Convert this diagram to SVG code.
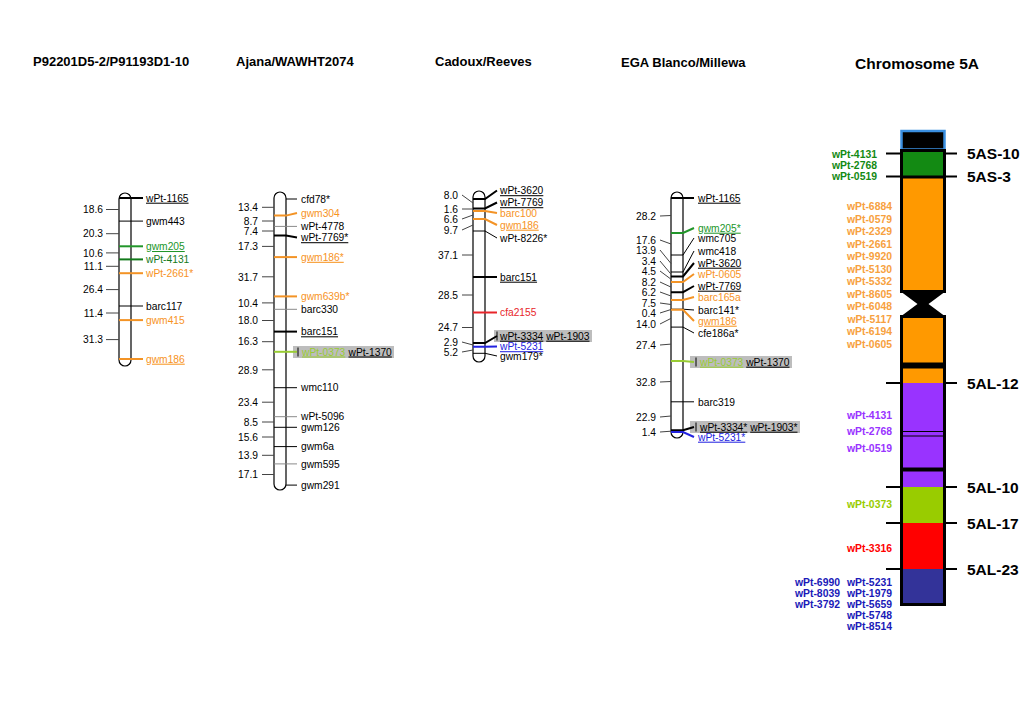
<svg xmlns="http://www.w3.org/2000/svg" width="1023" height="708" viewBox="0 0 1023 708">
<style>
text{font-family:"Liberation Sans",Arial,Helvetica,sans-serif}
.m{font-size:10.25px;fill:#000}
.d{font-size:10.25px;fill:#000;text-anchor:end}
.u{text-decoration:underline}
.ti{font-size:13px;font-weight:bold;fill:#000}
.cl{font-size:10.4px;font-weight:bold;text-anchor:end}
.arm{font-size:15.5px;font-weight:bold;fill:#000}
.bar{fill:#fff;stroke:#000;stroke-width:1.2}
.k1{stroke:#000;stroke-width:1;fill:none}
.k2{stroke:#000;stroke-width:2;fill:none}
.g1{stroke:#8a8a8a;stroke-width:1;fill:none}
.or{stroke:#f39325;stroke-width:2;fill:none}
.gr{stroke:#22962a;stroke-width:2;fill:none}
.dg{stroke:#137a1b;stroke-width:2;fill:none}
.yg{stroke:#99cc33;stroke-width:2;fill:none}
.rd{stroke:#e8252a;stroke-width:2;fill:none}
.bl{stroke:#2323e0;stroke-width:2;fill:none}
.tk{stroke:#444;stroke-width:1;fill:none}
.box{fill:#bdbdbd}
.to{fill:#f7931e}.tg{fill:#22962a}.tdg{fill:#137a1b}.tyg{fill:#99cc33}.tr{fill:#e8252a}.tb{fill:#2323e0}
</style>

<g id="titles">
<text class="ti" x="33" y="66">P92201D5-2/P91193D1-10</text>
<text class="ti" x="236" y="66">Ajana/WAWHT2074</text>
<text class="ti" x="435" y="66">Cadoux/Reeves</text>
<text class="ti" x="621" y="67">EGA Blanco/Millewa</text>
<text class="arm" x="855" y="69">Chromosome 5A</text>
</g>

<!-- Map 1 -->
<g id="map1">
<rect class="bar" x="119" y="193" width="12" height="173" rx="6" ry="6"/>
<g id="map1-connectors">
<path class="k2" d="M119 198H143"/>
<path class="k1" d="M119 221.1H143"/>
<path class="gr" d="M119 246.3H143"/>
<path class="dg" d="M119 259.4H143"/>
<path class="or" d="M119 273.2H143"/>
<path class="k1" d="M119 306H143"/>
<path class="or" d="M119 320.1H143"/>
<path class="or" d="M119 359H143"/>
<path class="tk" d="M106 209.5H119M106 233.7H119M106 252.9H119M106 266.3H119M106 289.6H119M106 313H119M106 339.6H119"/>
</g>
<text class="m u" x="146" y="201.7">wPt-1165</text>
<text class="m" x="146" y="224.8">gwm443</text>
<text class="m u tg" x="146" y="250">gwm205</text>
<text class="m tdg" x="146" y="263.1">wPt-4131</text>
<text class="m to" x="146" y="276.9">wPt-2661*</text>
<text class="m" x="146" y="309.7">barc117</text>
<text class="m to" x="146" y="323.8">gwm415</text>
<text class="m u to" x="146" y="362.7">gwm186</text>
<text class="d" x="103" y="213.2">18.6</text>
<text class="d" x="103" y="237.4">20.3</text>
<text class="d" x="103" y="256.6">10.6</text>
<text class="d" x="103" y="270">11.1</text>
<text class="d" x="103" y="293.3">26.4</text>
<text class="d" x="103" y="316.7">11.4</text>
<text class="d" x="103" y="343.3">31.3</text>
</g>

<!-- Map 2 -->
<g id="map2">
<rect class="bar" x="274" y="192" width="12" height="298" rx="6" ry="6"/>
<rect class="box" x="293" y="346" width="101" height="12"/>
<g id="map2-connectors">
<path class="k1" d="M286 199H297"/>
<path class="or" d="M274 215.6H286L297 213"/>
<path class="g1" d="M274 226.4H297"/>
<path class="k2" d="M274 235.6H286L297 237.5"/>
<path class="or" d="M274 257.1H297"/>
<path class="or" d="M274 296.4H297"/>
<path class="g1" d="M274 309.3H297"/>
<path class="k2" d="M274 331.6H297"/>
<path class="yg" d="M274 351.8H297"/>
<path class="k1" d="M298 347.5V356.5"/>
<path class="k1" d="M274 387.7H297"/>
<path class="g1" d="M274 416.7H297"/>
<path class="k1" d="M274 427.3H297"/>
<path class="k1" d="M274 446.6H297"/>
<path class="g1" d="M274 463.9H297"/>
<path class="k1" d="M286 485.1H297"/>
<path class="tk" d="M262 207.3H274M262 221H274M262 231H274M262 246.4H274M262 276.8H274M262 302.9H274M262 320.5H274M262 341.7H274M262 369.8H274M262 402.2H274M262 422H274M262 437H274M262 455.3H274M262 474.5H274"/>
</g>
<text class="m" x="301" y="202.7">cfd78*</text>
<text class="m to" x="301" y="216.7">gwm304</text>
<text class="m" x="301" y="229.7">wPt-4778</text>
<text class="m u" x="301" y="241.2">wPt-7769*</text>
<text class="m u to" x="301" y="260.8">gwm186*</text>
<text class="m to" x="301" y="300.1">gwm639b*</text>
<text class="m" x="301" y="313">barc330</text>
<text class="m u" x="301" y="335.3">barc151</text>
<text class="m u tyg" x="302" y="355.5">wPt-0373</text>
<text class="m u" x="348.5" y="355.5">wPt-1370</text>
<text class="m" x="301" y="391.4">wmc110</text>
<text class="m" x="301" y="420.4">wPt-5096</text>
<text class="m" x="301" y="431">gwm126</text>
<text class="m" x="301" y="450.3">gwm6a</text>
<text class="m" x="301" y="467.6">gwm595</text>
<text class="m" x="301" y="488.8">gwm291</text>
<text class="d" x="258" y="211">13.4</text>
<text class="d" x="258" y="224.7">8.7</text>
<text class="d" x="258" y="234.7">7.4</text>
<text class="d" x="258" y="250.1">17.3</text>
<text class="d" x="258" y="280.5">31.7</text>
<text class="d" x="258" y="306.6">10.4</text>
<text class="d" x="258" y="324.2">18.0</text>
<text class="d" x="258" y="345.4">16.3</text>
<text class="d" x="258" y="373.5">28.9</text>
<text class="d" x="258" y="405.9">23.4</text>
<text class="d" x="258" y="425.7">8.5</text>
<text class="d" x="258" y="440.7">15.6</text>
<text class="d" x="258" y="459">13.9</text>
<text class="d" x="258" y="478.2">17.1</text>
</g>

<!-- Map 3 -->
<g id="map3">
<rect class="bar" x="473" y="191" width="12" height="171" rx="6" ry="6"/>
<rect class="box" x="494" y="330" width="98" height="12"/>
<g id="map3-connectors">
<path class="k2" d="M473 199H485L497 190.5"/>
<path class="k2" d="M473 208.5H485L497 202.5"/>
<path class="or" d="M473 211H485L497 213"/>
<path class="or" d="M473 219H485L497 225"/>
<path class="k1" d="M473 231H485L497 238"/>
<path class="k2" d="M473 277H497"/>
<path class="rd" d="M473 312.5H497"/>
<path class="k2" d="M473 343H485L497 336"/>
<path class="k1" d="M497 331.5V340.5"/>
<path class="bl" d="M473 346.8H485L497 346.5"/>
<path class="k1" d="M473 353.3H485L497 356"/>
<path class="tk" d="M462 195L473 203M462 209H473M462 219L473 215M462 230L473 225M462 255H473M462 295H473M462 327.5H473M462 342L473 345M462 352L473 350"/>
</g>
<text class="m u" x="500" y="194.2">wPt-3620</text>
<text class="m u" x="500" y="206.2">wPt-7769</text>
<text class="m to" x="500" y="216.7">barc100</text>
<text class="m u to" x="500" y="228.7">gwm186</text>
<text class="m" x="500" y="241.7">wPt-8226*</text>
<text class="m u" x="500" y="280.7">barc151</text>
<text class="m tr" x="500" y="316.2">cfa2155</text>
<text class="m u" x="500" y="339.7">wPt-3334</text>
<text class="m u" x="546.2" y="339.7">wPt-1903</text>
<text class="m u tb" x="500" y="350.2">wPt-5231</text>
<text class="m" x="500" y="359.7">gwm179*</text>
<text class="d" x="458" y="198.7">8.0</text>
<text class="d" x="458" y="212.7">1.6</text>
<text class="d" x="458" y="222.7">6.6</text>
<text class="d" x="458" y="233.7">9.7</text>
<text class="d" x="458" y="258.7">37.1</text>
<text class="d" x="458" y="298.7">28.5</text>
<text class="d" x="458" y="331.2">24.7</text>
<text class="d" x="458" y="345.7">2.9</text>
<text class="d" x="458" y="355.7">5.2</text>
</g>

<!-- Map 4 -->
<g id="map4">
<rect class="bar" x="671" y="192" width="12" height="246" rx="6" ry="6"/>
<rect class="box" x="690" y="356" width="102" height="12"/>
<rect class="box" x="690" y="421" width="110" height="12"/>
<g id="map4-connectors">
<path class="k2" d="M671 198H694"/>
<path class="gr" d="M671 233H683L694 228"/>
<path class="k1" d="M671 255H683L694 238"/>
<path class="k1" d="M671 272H683L694 251"/>
<path class="k2" d="M671 276.4H683L694 263"/>
<path class="or" d="M671 282H683L694 274"/>
<path class="k2" d="M671 292.2H683L694 286"/>
<path class="or" d="M671 299.9H683L694 297"/>
<path class="k1" d="M671 309.2H683L694 310"/>
<path class="or" d="M671 309.7H683L694 321"/>
<path class="k1" d="M671 327.1H683L694 333"/>
<path class="yg" d="M671 361.1H683L694 362"/>
<path class="k1" d="M696 357.5V366.5"/>
<path class="k1" d="M671 401.8H694"/>
<path class="k2" d="M671 430.3H683L694 427"/>
<path class="k1" d="M696 422.5V431.5"/>
<path class="bl" d="M671 432H683L694 437"/>
<path class="tk" d="M660 216L671 215.5M660 240L671 244M660 250L671 263.5M660 261L671 274.2M660 271L671 279.2M660 282L671 287.1M660 292L671 296M660 303L671 304.5M660 313L671 309.5M660 324L671 318.4M660 345L671 344.1M660 382L671 381.5M660 417L671 416M660 432L671 431.2"/>
</g>
<text class="m u" x="698" y="201.7">wPt-1165</text>
<text class="m u tg" x="698" y="231.7">gwm205*</text>
<text class="m" x="698" y="241.7">wmc705</text>
<text class="m" x="698" y="254.7">wmc418</text>
<text class="m u" x="698" y="266.7">wPt-3620</text>
<text class="m to" x="698" y="277.7">wPt-0605</text>
<text class="m u" x="698" y="289.7">wPt-7769</text>
<text class="m to" x="698" y="300.7">barc165a</text>
<text class="m" x="698" y="313.7">barc141*</text>
<text class="m u to" x="698" y="324.7">gwm186</text>
<text class="m" x="698" y="336.7">cfe186a*</text>
<text class="m u tyg" x="700" y="365.7">wPt-0373</text>
<text class="m u" x="746.2" y="365.7">wPt-1370</text>
<text class="m" x="698" y="405.5">barc319</text>
<text class="m u" x="700" y="430.7">wPt-3334*</text>
<text class="m u" x="750.2" y="430.7">wPt-1903*</text>
<text class="m u tb" x="698" y="440.7">wPt-5231*</text>
<text class="d" x="656" y="219.7">28.2</text>
<text class="d" x="656" y="243.7">17.6</text>
<text class="d" x="656" y="253.7">13.9</text>
<text class="d" x="656" y="264.7">3.4</text>
<text class="d" x="656" y="274.7">4.5</text>
<text class="d" x="656" y="285.7">8.2</text>
<text class="d" x="656" y="295.7">6.2</text>
<text class="d" x="656" y="306.7">7.5</text>
<text class="d" x="656" y="316.7">0.4</text>
<text class="d" x="656" y="327.7">14.0</text>
<text class="d" x="656" y="348.7">27.4</text>
<text class="d" x="656" y="385.7">32.8</text>
<text class="d" x="656" y="420.7">22.9</text>
<text class="d" x="656" y="435.7">1.4</text>
</g>

<!-- Chromosome 5A -->
<g id="chromosome5A">
<g id="bin-ticks" stroke="#000" stroke-width="2">
<path d="M886 153.5H957M886 176.5H957M886 383H957M886 487H957M886 523H957M886 569H957"/>
</g>
<rect x="901.5" y="131" width="43" height="18.5" fill="#000" stroke="#3a8fe0" stroke-width="2.5"/>
<rect x="902" y="150" width="42" height="27" fill="#138a13"/>
<rect x="902" y="177" width="42" height="115" fill="#ff9900"/>
<rect x="900" y="175.5" width="46" height="3" fill="#000"/>
<rect x="901.5" y="150.5" width="43" height="141" fill="none" stroke="#000" stroke-width="3"/>
<polygon points="900,291 946,291 928.5,304 946,317 900,317 917.5,304" fill="#000"/>
<rect x="902" y="316" width="42" height="67" fill="#ff9900"/>
<rect x="902" y="383" width="42" height="104" fill="#9933ff"/>
<rect x="902" y="487" width="42" height="36" fill="#99cc00"/>
<rect x="902" y="523" width="42" height="46" fill="#ff0000"/>
<rect x="902" y="569" width="42" height="35" fill="#333399"/>
<rect x="900" y="362.5" width="46" height="6" fill="#000"/>
<rect x="900" y="467.5" width="46" height="4" fill="#000"/>
<path d="M902 431.5H944M902 436H944" stroke="#000" stroke-width="1"/>
<rect x="901.5" y="316.5" width="43" height="288" fill="none" stroke="#000" stroke-width="3"/>
<text class="arm" x="967" y="159">5AS-10</text>
<text class="arm" x="967" y="182">5AS-3</text>
<text class="arm" x="967" y="389">5AL-12</text>
<text class="arm" x="967" y="493">5AL-10</text>
<text class="arm" x="967" y="529">5AL-17</text>
<text class="arm" x="967" y="575">5AL-23</text>
<g fill="#138a13">
<text class="cl" x="877" y="157.7">wPt-4131</text>
<text class="cl" x="877" y="168.7">wPt-2768</text>
<text class="cl" x="877" y="179.7">wPt-0519</text>
</g>
<g fill="#f7a13e">
<text class="cl" x="892" y="210.4">wPt-6884</text>
<text class="cl" x="892" y="222.9">wPt-0579</text>
<text class="cl" x="892" y="235.4">wPt-2329</text>
<text class="cl" x="892" y="247.8">wPt-2661</text>
<text class="cl" x="892" y="260.3">wPt-9920</text>
<text class="cl" x="892" y="272.8">wPt-5130</text>
<text class="cl" x="892" y="285.3">wPt-5332</text>
<text class="cl" x="892" y="297.7">wPt-8605</text>
<text class="cl" x="892" y="310.2">wPt-6048</text>
<text class="cl" x="892" y="322.7">wPt-5117</text>
<text class="cl" x="892" y="335.2">wPt-6194</text>
<text class="cl" x="892" y="347.7">wPt-0605</text>
</g>
<g fill="#9933ff">
<text class="cl" x="892" y="418.7">wPt-4131</text>
<text class="cl" x="892" y="435.4">wPt-2768</text>
<text class="cl" x="892" y="452">wPt-0519</text>
</g>
<text class="cl" x="892" y="507.7" fill="#99cc00">wPt-0373</text>
<text class="cl" x="892" y="552" fill="#ff0000">wPt-3316</text>
<g fill="#1a1ab8">
<text class="cl" x="892" y="586.4">wPt-5231</text>
<text class="cl" x="892" y="597">wPt-1979</text>
<text class="cl" x="892" y="608">wPt-5659</text>
<text class="cl" x="892" y="618.7">wPt-5748</text>
<text class="cl" x="892" y="629.7">wPt-8514</text>
<text class="cl" x="840" y="586.4">wPt-6990</text>
<text class="cl" x="840" y="597">wPt-8039</text>
<text class="cl" x="840" y="608">wPt-3792</text>
</g>
</g>
</svg>
